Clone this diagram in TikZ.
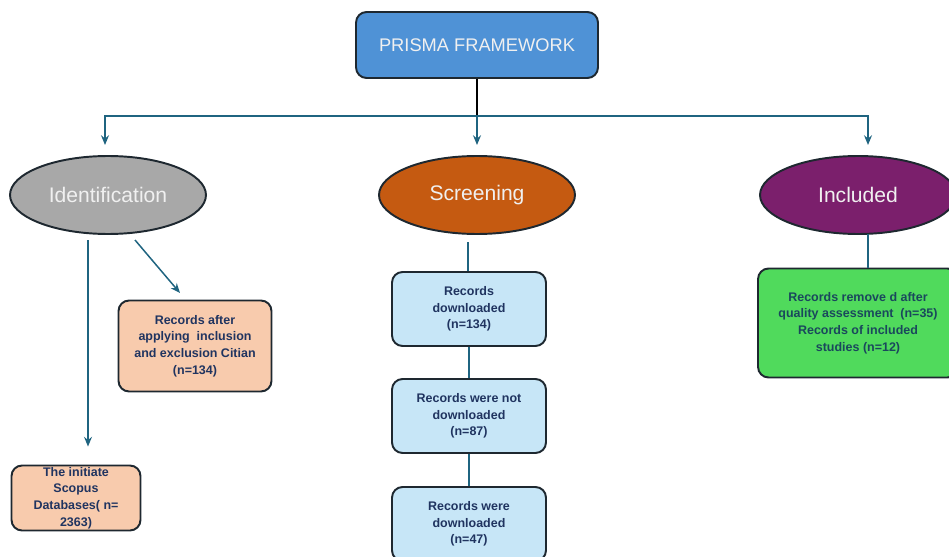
\documentclass[tikz,border=0pt]{standalone}
\usepackage{fontspec}
\setmainfont{Liberation Sans}
\usepackage{tikz}
\usetikzlibrary{shapes.geometric, arrows.meta, positioning, calc}

\definecolor{prismablue}{RGB}{79, 146, 214}
\definecolor{identgrey}{RGB}{168, 168, 168}
\definecolor{screenorange}{RGB}{197, 90, 17}
\definecolor{inclpurple}{RGB}{123, 31, 108}
\definecolor{peachbox}{RGB}{248, 203, 173}
\definecolor{skybox}{RGB}{199, 230, 247}
\definecolor{greenbox}{RGB}{80, 218, 92}
\definecolor{linkteal}{RGB}{31, 100, 128}
\definecolor{edgedark}{RGB}{30, 40, 48}
\definecolor{navytext}{RGB}{32, 52, 96}
\definecolor{tealtext}{RGB}{26, 72, 92}

\begin{document}
\begin{tikzpicture}[x=0.02cm, y=-0.02cm,
  stage/.style={ellipse, draw=edgedark, line width=1.1pt, minimum width=3.92cm, minimum height=1.56cm, text=white!94!black, font=\fontsize{12}{14}\selectfont},
  record/.style={draw=edgedark, line width=1.1pt, rounded corners=6pt, align=center, inner sep=2pt, text=navytext, font=\bfseries\fontsize{7.1}{9.5}\selectfont},
  link/.style={draw=linkteal, line width=0.85pt},
  tip/.style={-{Stealth[length=5.5pt, width=4.5pt]}}]
  \useasboundingbox (0,0) rectangle (949,557);
  \clip (0,0) rectangle (949,557);

  % Top box
  \node[draw=edgedark, line width=1.1pt, rounded corners=6pt, fill=prismablue, minimum width=4.84cm, minimum height=1.32cm, text=white!94!black, font=\fontsize{10.4}{12}\selectfont] (prisma) at (477,45) {PRISMA FRAMEWORK};

  % Stages
  \node[stage, fill=identgrey] (ident) at (108,195) {Identification};
  \node[stage, fill=screenorange] (screen) at (477,195) {Screening};
  \node[stage, fill=inclpurple] (incl) at (858,195) {Included};

  % Split into three branches
  \coordinate (split) at (477,116);
  \coordinate (identin) at (105,145);
  \coordinate (screenin) at (477,145);
  \coordinate (inclin) at (868,145);
  \draw[black, line width=0.9pt] (prisma) -- (split);
  \draw[link, tip] (split) -| (identin);
  \draw[link, tip] (split) -- (screenin);
  \draw[link, tip] (split) -| (inclin);

  % Identification branch
  \node[record, fill=peachbox, minimum width=3.06cm, minimum height=1.82cm] (after) at (195,346) {Records after\\applying\ \ inclusion\\and exclusion Citian\\(n=134)};
  \node[record, fill=peachbox, minimum width=2.58cm, minimum height=1.3cm, inner sep=0pt] (initiate) at (76,498) {The initiate\\Scopus\\Databases( n=\\2363)};
  \coordinate (identdown) at (88,240);
  \coordinate (identside) at (135,240);
  \coordinate (afterin) at (180,293);
  \draw[link, tip, shorten >=0.36cm] (identdown) -- (identdown |- initiate.north);
  \draw[link, tip] (identside) -- (afterin);

  % Screening branch
  \node[record, fill=skybox, minimum width=3.08cm, minimum height=1.48cm] (dl) at (469,309) {Records\\downloaded\\(n=134)};
  \node[record, fill=skybox, minimum width=3.08cm, minimum height=1.48cm] (notdl) at (469,416) {Records were not\\downloaded\\(n=87)};
  \node[record, fill=skybox, minimum width=3.08cm, minimum height=1.48cm] (wasdl) at (469,524) {Records were\\downloaded\\(n=47)};
  \coordinate (screendown) at (468,242);
  \draw[link] (screendown) -- (screendown |- dl.north);
  \draw[link] (dl) -- (notdl);
  \draw[link] (notdl) -- (wasdl);

  % Included branch
  \node[record, fill=greenbox, text=tealtext, minimum width=4cm, minimum height=2.18cm] (removed) at (858,323) {Records remove d after\\quality assessment\ \ (n=35)\\Records of included\\studies (n=12)};
  \coordinate (incldown) at (868,234);
  \draw[link] (incldown) -- (incldown |- removed.north);
\end{tikzpicture}
\end{document}
